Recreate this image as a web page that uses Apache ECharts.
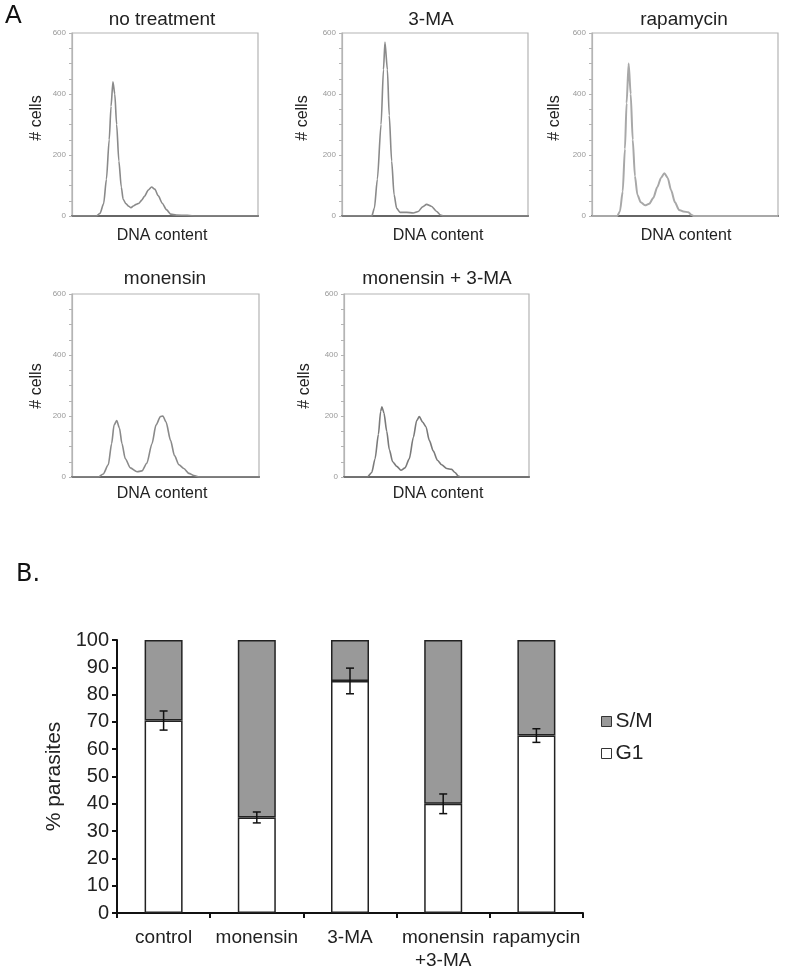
<!DOCTYPE html>
<html>
<head>
<meta charset="utf-8">
<script src="https://cdn.jsdelivr.net/npm/echarts@6/dist/echarts.min.js"></script>
<style>html,body{margin:0;padding:0;background:#fff}#c{width:788px;height:972px}</style>
</head>
<body>
<div id="c"></div>
<script>
// ---- Panel A: DNA content histograms ([DNA channel %, # cells]) ----
const histTitles = ['no treatment', '3-MA', 'rapamycin', 'monensin', 'monensin + 3-MA'];
const histNoTreatment = [[0,0],[13,0],[15,8],[17,40],[18.5,120],[20,250],[21,360],[22,440],[23,400],[24,300],[25.2,180],[26.5,95],[27.5,55],[29,40],[30.5,32],[31.7,27],[33,33],[34.5,38],[36,42],[37.5,52],[39,65],[41,85],[42.8,95],[44.5,88],[46.4,66],[48.5,42],[50.9,20],[53,6],[56,3],[62,2],[67,0],[100,0]];
const hist3MA = [[0,0],[16,0],[17.4,25],[19,120],[21,300],[22.3,480],[23.1,570],[24.4,480],[25.4,330],[26.7,180],[28,70],[29.4,25],[31.2,12],[34.8,12],[38.3,10],[41,15],[43.3,30],[45.5,38],[48,32],[50.9,15],[53,3],[54.5,0],[100,0]];
const histRapamycin = [[0,0],[13.6,0],[15,15],[16.5,80],[17.7,220],[18.6,370],[19.7,500],[20.8,400],[21.9,250],[23.1,130],[24.4,70],[26.2,45],[28.5,35],[30.8,40],[33,60],[35.1,95],[37.1,125],[38.9,140],[40.7,125],[42.5,85],[44.6,45],[46.8,20],[49.1,15],[51.8,12],[53.6,3],[54.8,0],[100,0]];
const histMonensin = [[0,0],[14.2,0],[16.7,10],[19.4,40],[21.2,110],[22.5,170],[23.9,185],[25.4,160],[26.7,110],[28.5,60],[31.2,30],[34.8,17],[37.4,20],[40,45],[42.8,110],[44.9,170],[47.3,198],[48.6,200],[50.3,180],[52.7,120],[54.8,70],[57.2,40],[59.8,28],[62.5,12],[65.2,5],[67.9,0],[100,0]];
const histMonensin3MA = [[0,0],[12.6,0],[15,15],[16.8,60],[18.6,140],[19.8,215],[20.5,230],[21.6,210],[23.1,150],[24.5,90],[26.3,50],[28.5,35],[30.8,22],[33,30],[35.3,60],[37.5,130],[39.3,185],[40.7,198],[42.5,180],[44.3,165],[46.1,120],[48.3,85],[50.5,55],[52.8,40],[55.5,28],[58.2,25],[60,15],[61.8,3],[63,0],[100,0]];
const histYTicks = [0, 200, 400, 600];

// ---- Panel B: cell cycle distribution (%) ----
const categories = ['control', 'monensin', '3-MA', 'monensin\n+3-MA', 'rapamycin'];
const g1Values = [70.5, 35, 85, 40, 65];
const smValues = [29.5, 65, 15, 60, 35];
const g1Errors = [3.5, 2, 4.7, 3.6, 2.5];

const FONT = '"Liberation Sans", Arial, sans-serif';
const histData = [histNoTreatment, hist3MA, histRapamycin, histMonensin, histMonensin3MA];
const histBoxes = [
  {left: 72, top: 33, width: 186, height: 183},
  {left: 342, top: 33, width: 186, height: 183},
  {left: 592, top: 33, width: 186, height: 183},
  {left: 72, top: 294, width: 187, height: 183},
  {left: 344, top: 294, width: 185, height: 183}
];
const titlePos = [[162, 20], [431, 20], [684, 20], [165, 279], [437, 279]];
const yNamePos = [[37, 118], [303, 118], [555, 118], [37, 386], [305, 386]];
const xNamePos = [[162, 236], [438, 236], [686, 236], [162, 494], [438, 494]];
const lineColors = ['#8a8a8a', '#8a8a8a', '#a8a8a8', '#8a8a8a', '#7a7a7a'];

const grids = [], xAxes = [], yAxes = [], series = [], graphics = [];
histBoxes.forEach((b, i) => {
  grids.push(Object.assign({show: true, borderColor: '#b4b4b4', borderWidth: 1.2, backgroundColor: '#fff'}, b));
  xAxes.push({type: 'value', gridIndex: i, min: 0, max: 100, axisLabel: {show: false}, axisTick: {show: false},
    splitLine: {show: false}, axisLine: {show: true, lineStyle: {color: '#666', width: 2}}});
  yAxes.push({type: 'value', gridIndex: i, min: 0, max: 600, interval: 50, splitLine: {show: false},
    axisLine: {show: true, lineStyle: {color: '#b4b4b4', width: 1.2}},
    axisTick: {show: true, length: 3, inside: false, lineStyle: {color: '#b4b4b4'}},
    axisLabel: {fontSize: 8, color: '#999', margin: 6, fontFamily: FONT,
      formatter: v => histYTicks.indexOf(v) >= 0 ? String(v) : ''}});
  series.push({type: 'line', xAxisIndex: i, yAxisIndex: i, data: histData[i], showSymbol: false,
    smooth: 0.25, smoothMonotone: 'x', lineStyle: {color: lineColors[i], width: i === 2 ? 2 : 1.6}, silent: true});
  graphics.push({type: 'text', x: titlePos[i][0], y: titlePos[i][1],
    style: {text: histTitles[i], font: '19px ' + FONT, fill: '#222', textAlign: 'center', textVerticalAlign: 'middle'}});
  graphics.push({type: 'text', x: yNamePos[i][0], y: yNamePos[i][1], rotation: Math.PI / 2,
    style: {text: '# cells', font: '16px ' + FONT, fill: '#222', textAlign: 'center', textVerticalAlign: 'middle'}});
  graphics.push({type: 'text', x: xNamePos[i][0], y: xNamePos[i][1],
    style: {text: 'DNA content', font: '16px ' + FONT, fill: '#222', textAlign: 'center', textVerticalAlign: 'middle'}});
});

// Bar chart grid
const bi = histBoxes.length;
grids.push({left: 117, top: 640, width: 466, height: 273});
xAxes.push({type: 'category', gridIndex: bi, data: categories, boundaryGap: true,
  axisLine: {show: true, lineStyle: {color: '#111', width: 2}},
  axisTick: {show: true, length: 5, interval: 0, lineStyle: {color: '#111', width: 2}},
  axisLabel: {fontSize: 19, color: '#222', margin: 13, lineHeight: 23, fontFamily: FONT, interval: 0}});
yAxes.push({type: 'value', gridIndex: bi, min: 0, max: 100, interval: 10, splitLine: {show: false},
  axisLine: {show: true, lineStyle: {color: '#111', width: 2}},
  axisTick: {show: true, length: 5, lineStyle: {color: '#111', width: 2}},
  axisLabel: {fontSize: 20, color: '#222', margin: 8, fontFamily: FONT},
  name: '% parasites', nameLocation: 'middle', nameGap: 52, nameRotate: 90,
  nameTextStyle: {fontSize: 21, color: '#222', fontFamily: FONT}});
series.push({name: 'G1', type: 'bar', stack: 'b', xAxisIndex: bi, yAxisIndex: bi, data: g1Values, barWidth: 38,
  itemStyle: {color: '#fff', borderColor: '#222', borderWidth: 1.5}, silent: true});
series.push({name: 'S/M', type: 'bar', stack: 'b', xAxisIndex: bi, yAxisIndex: bi, data: smValues, barWidth: 38,
  itemStyle: {color: '#999999', borderColor: '#222', borderWidth: 1.5}, silent: true});
series.push({type: 'custom', xAxisIndex: bi, yAxisIndex: bi, silent: true, z: 10,
  data: g1Values.map((v, k) => [k, v - g1Errors[k], v + g1Errors[k]]),
  renderItem: (params, api) => {
    const lo = api.coord([api.value(0), api.value(1)]);
    const hi = api.coord([api.value(0), api.value(2)]);
    const w = 4;
    const st = {stroke: '#111', lineWidth: 1.5};
    return {type: 'group', children: [
      {type: 'line', shape: {x1: lo[0], y1: lo[1], x2: hi[0], y2: hi[1]}, style: st},
      {type: 'line', shape: {x1: lo[0] - w, y1: lo[1], x2: lo[0] + w, y2: lo[1]}, style: st},
      {type: 'line', shape: {x1: hi[0] - w, y1: hi[1], x2: hi[0] + w, y2: hi[1]}, style: st}
    ]};
  }});

graphics.push({type: 'text', x: 5, y: 16, style: {text: 'A', font: '25px ' + FONT, fill: '#111', textVerticalAlign: 'middle'}});
graphics.push({type: 'text', x: 16, y: 575, style: {text: 'B.', font: '24px "DejaVu Sans", sans-serif', fill: '#111', textVerticalAlign: 'middle'}});

const chart = echarts.init(document.getElementById('c'), null, {renderer: 'canvas'});
chart.setOption({
  backgroundColor: '#fff',
  animation: false,
  grid: grids, xAxis: xAxes, yAxis: yAxes, series: series,
  legend: {data: ['S/M', 'G1'], orient: 'vertical', left: 596, top: 706, itemWidth: 10, itemHeight: 10,
    itemGap: 11, icon: 'rect', selectedMode: false,
    itemStyle: {borderColor: '#333', borderWidth: 1},
    textStyle: {fontSize: 21, color: '#222', fontFamily: FONT, padding: [0, 0, 0, -1]}},
  graphic: graphics
});
</script>
</body>
</html>
